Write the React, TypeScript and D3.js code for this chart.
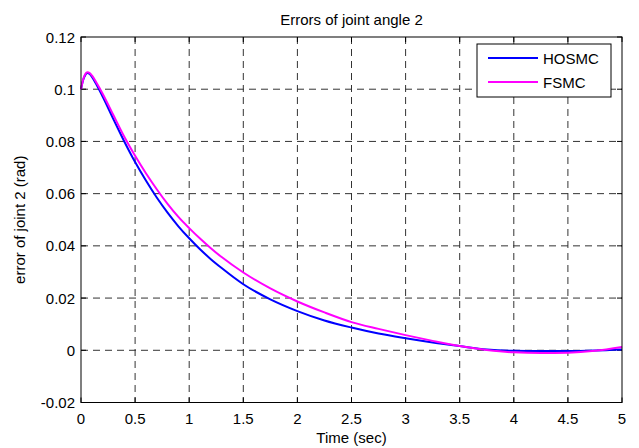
import React from "react";
import * as d3 from "d3";

// Simulation time samples (s)
const time = [
  0, 0.02, 0.04, 0.06, 0.08, 0.1, 0.15, 0.2, 0.3, 0.4, 0.5, 0.6, 0.7, 0.8, 0.9,
  1.0, 1.1, 1.2, 1.3, 1.5, 1.75, 2.0, 2.25, 2.5, 2.75, 3.0, 3.25, 3.5, 3.75,
  4.0, 4.25, 4.5, 4.75, 5.0,
];

// Joint 2 angle error (rad) for each controller
const hosmc = [
  0.1, 0.1035, 0.1055, 0.1062, 0.1058, 0.1048, 0.1012, 0.0972, 0.0885, 0.08,
  0.0721, 0.065, 0.0585, 0.0527, 0.0475, 0.0429, 0.0387, 0.0349, 0.0315,
  0.0253, 0.0195, 0.015, 0.0114, 0.0087, 0.0064, 0.0046, 0.003, 0.0016,
  0.0003, -0.0002, -0.0003, -0.0003, -0.0001, 0.0003,
];
const fsmc = [
  0.1, 0.1037, 0.1058, 0.1065, 0.1062, 0.1053, 0.102, 0.0983, 0.09, 0.0818,
  0.0745, 0.0678, 0.0617, 0.0561, 0.0511, 0.0468, 0.0428, 0.0391, 0.0357,
  0.0298, 0.0237, 0.0187, 0.0145, 0.0108, 0.0082, 0.0058, 0.0036, 0.0016,
  0.0001, -0.0008, -0.001, -0.0009, -0.0002, 0.0013,
];

const xTicks = [0, 0.5, 1, 1.5, 2, 2.5, 3, 3.5, 4, 4.5, 5];
const xTickLabels = ["0", "0.5", "1", "1.5", "2", "2.5", "3", "3.5", "4", "4.5", "5"];
const yTicks = [-0.02, 0, 0.02, 0.04, 0.06, 0.08, 0.1, 0.12];
const yTickLabels = ["-0.02", "0", "0.02", "0.04", "0.06", "0.08", "0.1", "0.12"];

const seriesNames = ["HOSMC", "FSMC"];
const seriesColors = ["#0000ff", "#ff00ff"];

const W = 639;
const H = 448;
const plot = { left: 81, right: 622, top: 37, bottom: 402.5 };
const font = "'Liberation Sans', Arial, Helvetica, sans-serif";

export default function App() {
  const x = d3.scaleLinear().domain([0, 5]).range([plot.left, plot.right]);
  const y = d3.scaleLinear().domain([-0.02, 0.12]).range([plot.bottom, plot.top]);

  const line = d3
    .line<number>()
    .x((_, i) => x(time[i]))
    .y((d) => y(d))
    .curve(d3.curveMonotoneX);

  const series = [hosmc, fsmc];
  const tickLen = 5;

  return (
    <svg
      width={W}
      height={H}
      style={{ position: "absolute", left: 0, top: 0, background: "#fff" }}
      fontFamily={font}
    >
      <rect x={0} y={0} width={W} height={H} fill="#fff" />

      {/* grid */}
      <g stroke="#333" strokeWidth={1} strokeDasharray="7,5" fill="none">
        {xTicks.slice(1, -1).map((t) => (
          <line key={"gx" + t} x1={x(t)} x2={x(t)} y1={plot.top} y2={plot.bottom} />
        ))}
        {yTicks.slice(1, -1).map((t) => (
          <line key={"gy" + t} x1={plot.left} x2={plot.right} y1={y(t)} y2={y(t)} />
        ))}
      </g>

      {/* inward ticks on all four sides */}
      <g stroke="#000" strokeWidth={1}>
        {xTicks.map((t) => (
          <g key={"tx" + t}>
            <line x1={x(t)} x2={x(t)} y1={plot.bottom} y2={plot.bottom - tickLen} />
            <line x1={x(t)} x2={x(t)} y1={plot.top} y2={plot.top + tickLen} />
          </g>
        ))}
        {yTicks.map((t) => (
          <g key={"ty" + t}>
            <line x1={plot.left} x2={plot.left + tickLen} y1={y(t)} y2={y(t)} />
            <line x1={plot.right} x2={plot.right - tickLen} y1={y(t)} y2={y(t)} />
          </g>
        ))}
      </g>

      {/* curves */}
      <g fill="none" strokeWidth={2} strokeLinejoin="round">
        {series.map((s, i) => (
          <path key={seriesNames[i]} d={line(s) ?? ""} stroke={seriesColors[i]} />
        ))}
      </g>

      {/* axes box */}
      <rect
        x={plot.left}
        y={plot.top}
        width={plot.right - plot.left}
        height={plot.bottom - plot.top}
        fill="none"
        stroke="#000"
        strokeWidth={1}
      />

      {/* tick labels */}
      <g fontSize={15} fill="#000">
        {xTicks.map((t, i) => (
          <text key={"lx" + t} x={x(t)} y={plot.bottom + 21} textAnchor="middle">
            {xTickLabels[i]}
          </text>
        ))}
        {yTicks.map((t, i) => (
          <text key={"ly" + t} x={plot.left - 6} y={y(t) + 5.5} textAnchor="end">
            {yTickLabels[i]}
          </text>
        ))}
      </g>

      {/* title and axis labels */}
      <text x={(plot.left + plot.right) / 2} y={24.5} textAnchor="middle" fontSize={15}>
        Errors of joint angle 2
      </text>
      <text x={(plot.left + plot.right) / 2} y={442.5} textAnchor="middle" fontSize={15}>
        Time (sec)
      </text>
      <text
        transform={`translate(25,${(plot.top + plot.bottom) / 2}) rotate(-90)`}
        textAnchor="middle"
        fontSize={15}
      >
        error of joint 2 (rad)
      </text>

      {/* legend */}
      <g>
        <rect x={477} y={44} width={134} height={53} fill="#fff" stroke="#000" strokeWidth={1} />
        {seriesNames.map((name, i) => (
          <g key={"lg" + name}>
            <line
              x1={488}
              x2={538}
              y1={58 + i * 24}
              y2={58 + i * 24}
              stroke={seriesColors[i]}
              strokeWidth={2}
            />
            <text x={543} y={58 + i * 24 + 5.5} fontSize={15}>
              {name}
            </text>
          </g>
        ))}
      </g>
    </svg>
  );
}
